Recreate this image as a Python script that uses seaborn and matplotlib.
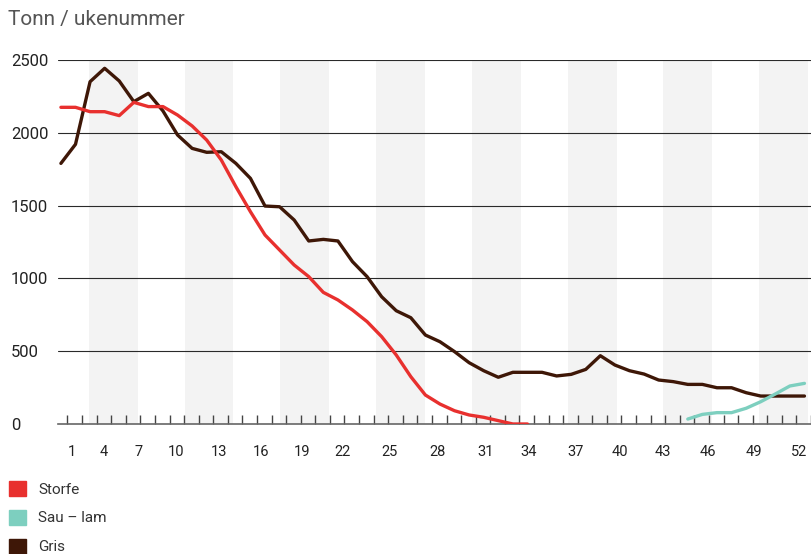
import numpy as np
import pandas as pd
import matplotlib
matplotlib.use("Agg")
import matplotlib.pyplot as plt
import matplotlib.patches as mpatches
import seaborn as sns

# weekly tonnage
gris_weeks = list(range(1, 53))
gris = [1790, 1921, 2351, 2443, 2356, 2214, 2271, 2150, 1985, 1893,
        1866, 1870, 1790, 1687, 1497, 1492, 1401, 1257, 1268, 1257,
        1115, 1012, 874, 778, 730, 611, 565, 497, 421, 366,
        321, 355, 355, 355, 330, 341, 375, 469, 405, 366,
        343, 302, 291, 272, 272, 249, 249, 215, 192, 192,
        192, 192]
storfe_weeks = list(range(1, 34))
storfe = [2175, 2175, 2145, 2145, 2118, 2209, 2180, 2180, 2122, 2047,
          1950, 1813, 1630, 1458, 1298, 1195, 1092, 1012, 904, 852,
          783, 703, 600, 474, 325, 199, 137, 91, 62, 46,
          23, 0, 0]
sau_weeks = list(range(44, 53))
sau = [34, 66, 78, 78, 108, 153, 206, 261, 279]

series = ["Storfe", "Sau – lam", "Gris"]
colors = {"Storfe": "#e8302e", "Sau – lam": "#7dcfbf", "Gris": "#3e1707"}
week_labels = [1, 4, 7, 10, 13, 16, 19, 22, 25, 28, 31, 34, 37, 40, 43, 46, 49, 52]
y_ticks = [0, 500, 1000, 1500, 2000, 2500]

df = pd.concat([
    pd.DataFrame({"uke": gris_weeks, "tonn": gris, "art": "Gris"}),
    pd.DataFrame({"uke": storfe_weeks, "tonn": storfe, "art": "Storfe"}),
    pd.DataFrame({"uke": sau_weeks, "tonn": sau, "art": "Sau – lam"}),
])

sns.set_style("white")
plt.rcParams["font.family"] = ["Roboto", "DejaVu Sans"]

fig = plt.figure(figsize=(8.11, 5.54), dpi=100)
ax = fig.add_axes([58 / 811, 130 / 554, 753 / 811, 364 / 554])

# alternating light columns
for k in range(8):
    s = 2.91 + 6.57 * k
    ax.axvspan(s, s + 3.35, color="#f3f3f3", lw=0, zorder=0)

for y in y_ticks[1:]:
    ax.axhline(y, color="#2a2a2a", lw=0.8, zorder=1)

for name in ["Gris", "Storfe", "Sau – lam"]:
    sns.lineplot(data=df[df["art"] == name], x="uke", y="tonn", color=colors[name],
                 lw=2.4, ax=ax, zorder=3)

ax.set_xlim(0.8, 52.26)
ax.set_ylim(0, 2500)
ax.set_xlabel("")
ax.set_ylabel("")

for side in ["top", "right", "left"]:
    ax.spines[side].set_visible(False)
ax.spines["bottom"].set_color("#666666")
ax.spines["bottom"].set_linewidth(1.2)

# week labels sit a little off the data points in the original
label_pos = [1.73, 3.94, 6.33, 8.93, 11.87, 14.74, 17.54, 20.34, 23.56,
             26.84, 30.12, 33.06, 36.27, 39.35, 42.29, 45.36, 48.51, 51.65]
ax.set_xticks(label_pos)
ax.set_xticklabels([str(w) for w in week_labels], fontsize=10.5, color="#222222")
ax.set_xticks(np.arange(1, 53) + 0.45, minor=True)
ax.tick_params(axis="x", which="major", length=0, pad=15)
ax.tick_params(axis="x", which="minor", direction="in", length=6.5, width=1,
               color="#444444", bottom=True)

ax.set_yticks(y_ticks)
ax.set_yticklabels([str(v) for v in y_ticks], fontsize=12, color="#222222")
ax.tick_params(axis="y", length=0, pad=34)
for lab in ax.get_yticklabels():
    lab.set_horizontalalignment("left")

fig.text(8 / 811, 1 - 20 / 554, "Tonn / ukenummer", fontsize=15, color="#555555",
         va="center", ha="left")

handles = [mpatches.Patch(color=colors[s], label=s) for s in series]
fig.legend(handles=handles, loc="upper left", bbox_to_anchor=(9 / 811, 1 - 481 / 554),
           frameon=False, fontsize=11, handlelength=1.1, handleheight=1.1,
           handletextpad=0.8, labelspacing=0.88, borderpad=0, borderaxespad=0,
           labelcolor="#333333")

fig.savefig("out.png", dpi=100)
